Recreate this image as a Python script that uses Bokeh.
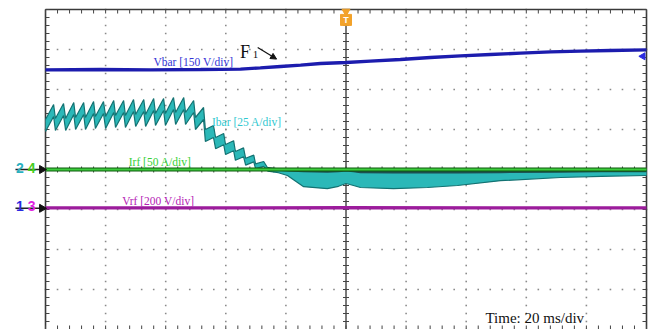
import numpy as np
from bokeh.plotting import figure
from bokeh.models import Range1d, Arrow, NormalHead
from bokeh.core.properties import value
from bokeh.embed import file_html
from bokeh.resources import INLINE

# ---- data: time in ms (20 ms/div), vertical position in divisions ----
vbar_t = [-100.0, -81.7, -65.1, -48.4, -35.1, -28.5, -21.8, -15.1, -8.5, 0.0, 8.1,
          18.1, 28.1, 38.1, 48.1, 58.1, 68.1, 78.0, 88.0, 100.0]
vbar_v = [2.49, 2.50, 2.49, 2.50, 2.51, 2.54, 2.575, 2.61, 2.65, 2.675, 2.71,
          2.75, 2.80, 2.84, 2.875, 2.91, 2.94, 2.96, 2.975, 2.99]

irf_t = [-100.0, 100.0]
irf_v = [0.0, 0.0]

vrf_t = [-100.0, -50.0, 0.0, 50.0, 100.0]
vrf_v = [-0.96, -0.96, -0.955, -0.96, -0.96]

# Ibar ripple teeth (trough time, peak time, upper-edge trough/peak, band thickness)
ibar_trough_t = [-100.0, -96.7, -93.3, -90.0, -86.7, -83.4, -80.0, -76.7, -73.4, -70.0, -66.7,
                 -63.4, -60.1, -56.7, -53.4, -50.1, -46.8, -43.4, -40.1, -36.8, -33.4, -30.1]
ibar_peak_t = [-97.3, -94.0, -90.6, -87.3, -84.0, -80.7, -77.3, -74.0, -70.7, -67.3, -64.0,
               -60.7, -57.4, -54.0, -50.7, -47.4, -44.1, -40.7, -37.4, -34.1, -30.7, -27.4]
ibar_trough_v = [1.25, 1.275, 1.275, 1.30, 1.30, 1.325, 1.325, 1.35, 1.35, 1.375, 1.375,
                 1.40, 1.40, 1.425, 1.425, 1.30, 1.00, 0.80, 0.625, 0.45, 0.28, 0.14]
ibar_peak_v = [1.625, 1.65, 1.675, 1.675, 1.70, 1.70, 1.725, 1.725, 1.75, 1.75, 1.775,
               1.775, 1.80, 1.80, 1.725, 1.55, 1.10, 0.90, 0.72, 0.54, 0.36, 0.20]
ibar_thick = [0.30, 0.30, 0.30, 0.30, 0.30, 0.30, 0.30, 0.30, 0.30, 0.30, 0.30,
              0.30, 0.30, 0.30, 0.30, 0.30, 0.30, 0.28, 0.25, 0.22, 0.17, 0.12]
# Ibar after the transient (upper / lower edge of the trace band)
ibar_tail_t = [-26.0, -22.5, -19.5, -14.1, -6.2, -2.5, 0.0, 2.5, 4.8, 15.8, 27.1, 37.1,
               51.4, 71.4, 85.0, 100.0]
ibar_tail_hi = [0.03, 0.0, -0.02, -0.04, -0.05, -0.04, -0.02, -0.04, -0.06, -0.07, -0.07,
                -0.07, -0.06, -0.05, -0.04, -0.04]
ibar_tail_lo = [-0.04, -0.08, -0.15, -0.43, -0.48, -0.42, -0.35, -0.40, -0.45, -0.48, -0.45,
                -0.40, -0.28, -0.20, -0.17, -0.15]

labels = ["Vbar [150 V/div]", "Ibar [25 A/div]", "Irf [50 A/div]", "Vrf [200 V/div]"]
time_label = "Time: 20 ms/div"

# ---- figure: frame covers the whole canvas ----
p = figure(width=657, height=329, output_backend="svg", toolbar_location=None,
           x_range=Range1d(-114.98, 103.66), y_range=Range1d(-4.0, 4.225),
           x_axis_type=None, y_axis_type=None, min_border=0)
p.outline_line_color = None
p.grid.visible = False
p.background_fill_color = "white"

# grid dots
gx, gy = [], []
for xv in range(-80, 100, 20):
    if xv == 0:
        continue
    ys = np.arange(-4.0, 4.01, 0.2)
    gx += [xv] * len(ys)
    gy += list(ys)
for yv in range(-3, 4):
    if yv == 0:
        continue
    xs = np.arange(-100.0, 100.1, 4.0)
    gx += list(xs)
    gy += [yv] * len(xs)
p.scatter(gx, gy, marker="square", size=1.6, color="#8a8a8a", line_color=None)

# border lines
p.segment(x0=[-100, -100, 100], y0=[-4, 4, -4], x1=[-100, 100, 100], y1=[4, 4, 4],
          line_color="#3a3a3a", line_width=1.6)
# center lines
p.segment(x0=[0, -100], y0=[-4, 0], x1=[0, 100], y1=[3.62, 0], line_color="#333333", line_width=1.3)

# ticks
tx = np.arange(-100.0, 100.1, 4.0)
ty = np.arange(-4.0, 4.01, 0.2)
dx = 1.33
dy = 0.1
x0 = list(tx) + list(tx) + [-100] * len(ty) + [100 - dx] * len(ty) + list(tx) + [-1.0] * len(ty)
x1 = list(tx) + list(tx) + [-100 + dx] * len(ty) + [100] * len(ty) + list(tx) + [1.0] * len(ty)
y0 = [4 - dy] * len(tx) + [-4] * len(tx) + list(ty) + list(ty) + [-0.075] * len(tx) + list(ty)
y1 = [4] * len(tx) + [-4 + dy] * len(tx) + list(ty) + list(ty) + [0.075] * len(tx) + list(ty)
p.segment(x0=x0, y0=y0, x1=x1, y1=y1, line_color="#444444", line_width=1)

# ---- traces ----
# Vrf
p.line(vrf_t, vrf_v, line_color="#9c1c9c", line_width=3.2)

# Ibar band
band_t, band_hi, band_lo = [], [], []
for i in range(len(ibar_trough_t)):
    band_t += [ibar_trough_t[i], ibar_peak_t[i]]
    band_hi += [ibar_trough_v[i], ibar_peak_v[i]]
    band_lo += [ibar_trough_v[i] - ibar_thick[i], ibar_peak_v[i] - ibar_thick[i]]
band_t += ibar_tail_t
band_hi += ibar_tail_hi
band_lo += ibar_tail_lo
p.varea(x=band_t, y1=band_lo, y2=band_hi, fill_color="#2bb8b8")
p.line(band_t, band_lo, line_color="#137272", line_width=1.2)
p.line(band_t, band_hi, line_color="#137272", line_width=1.2)
p.line(ibar_tail_t, ibar_tail_hi, line_color="#1d4f4f", line_width=2.5)

# Irf
p.line(irf_t, irf_v, line_color="#0d5a0d", line_width=4)
p.line(irf_t, irf_v, line_color="#3ccc3c", line_width=1.8)

# Vbar
p.line(vbar_t, vbar_v, line_color="#1c1cae", line_width=3.4)

# ---- labels ----
serif = value("Liberation Serif")
p.text(x=[-64.1, -44.6, -72.3, -74.5], y=[2.7, 1.2, 0.2, -0.775], text=labels,
       text_font=serif, text_font_size="11.5px",
       text_color=["#3434d6", "#30c8d0", "#35d035", "#b522b5"],
       text_baseline="alphabetic", text_align="left")
p.text(x=[46.4], y=[-3.7], text=[time_label], text_font=serif, text_font_size="15px",
       text_color="#111111", text_baseline="alphabetic", text_align="left")
p.text(x=[-35.3], y=[2.93], text=["F"], text_font=serif, text_font_size="18px",
       text_color="#111111", text_baseline="alphabetic")
p.text(x=[-31.0], y=[2.88], text=["1"], text_font=serif, text_font_size="11px",
       text_color="#111111", text_baseline="alphabetic")
p.add_layout(Arrow(end=NormalHead(size=6, fill_color="#111111", line_color="#111111"),
                   x_start=-29.4, y_start=3.05, x_end=-23.1, y_end=2.76,
                   line_color="#111111", line_width=1.2))

# channel markers on the left
sans = value("Liberation Sans")
p.segment(x0=[-110.0, -110.0], y0=[0.0, -0.97], x1=[-101.5, -101.5], y1=[0.0, -0.97],
          line_color="#222222", line_width=1.5)
p.scatter([-101.2, -101.2], [0.0, -0.97], marker="triangle", angle=-np.pi / 2, size=8,
          color="#111111")
p.text(x=[-109.8, -105.9, -109.8, -105.9], y=[0.05, 0.05, -0.92, -0.92],
       text=["2", "4", "1", "3"], text_font=sans, text_font_size="14px",
       text_font_style="bold",
       text_color=["#2ab0c0", "#44cc22", "#2a2ae0", "#e022e0"],
       text_baseline="alphabetic", text_align="left")

# trigger marker at top
p.scatter([0.0], [3.95], marker="inverted_triangle", size=8, color="#f2a22a")
p.scatter([0.0], [3.74], marker="square", size=11, color="#f2a22a")
p.text(x=[0.0], y=[3.74], text=["T"], text_font=sans, text_font_size="9px",
       text_font_style="bold", text_color="white", text_align="center",
       text_baseline="middle")

# level marker on the right
p.scatter([98.8], [2.83], marker="triangle", angle=np.pi / 2, size=7, color="#2a2ae0")

open("out.html", "w").write(file_html(p, INLINE))
